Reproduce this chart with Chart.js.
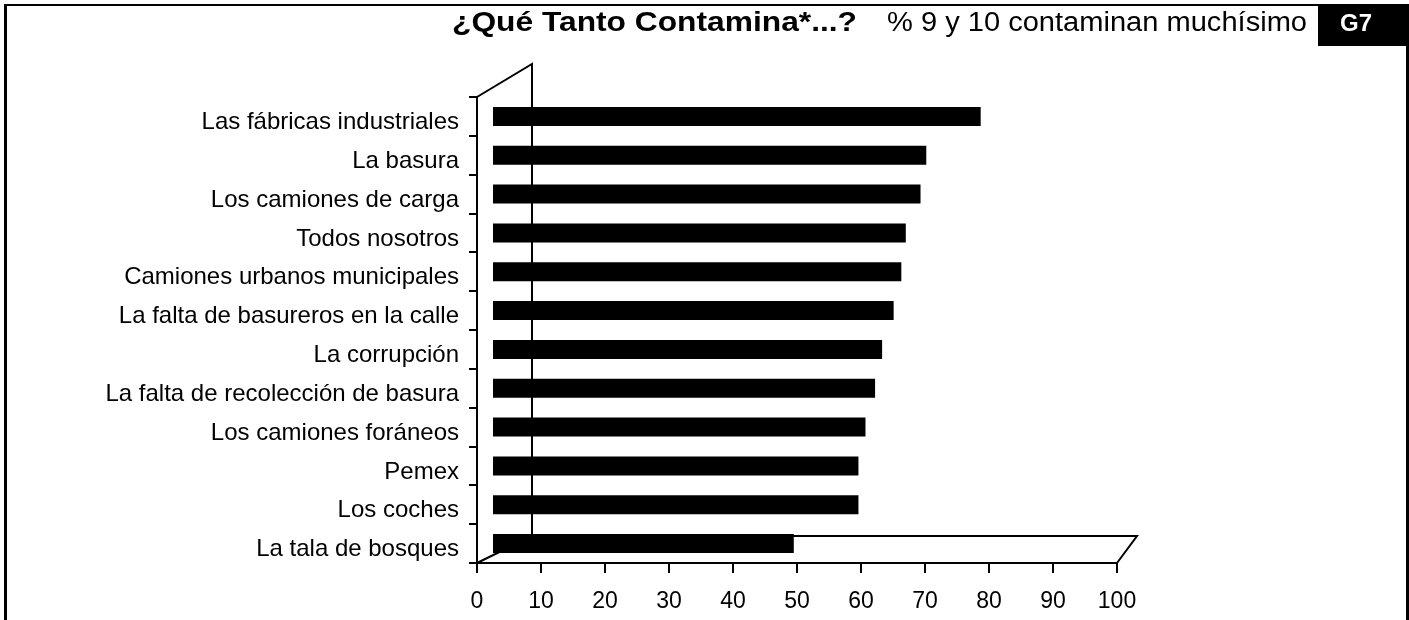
<!DOCTYPE html>
<html><head><meta charset="utf-8">
<script src="https://cdn.jsdelivr.net/npm/chart.js@4"></script>
<style>html,body{margin:0;padding:0;background:#fff;overflow:hidden}#wrap{position:relative;width:1409px;height:620px}</style>
</head><body><div id="wrap"><canvas id="c" width="1409" height="620"></canvas></div>
<script>
const categories = [
  'Las fábricas industriales',
  'La basura',
  'Los camiones de carga',
  'Todos nosotros',
  'Camiones urbanos municipales',
  'La falta de basureros en la calle',
  'La corrupción',
  'La falta de recolección de basura',
  'Los camiones foráneos',
  'Pemex',
  'Los coches',
  'La tala de bosques'
];
const values = [78.7, 70.2, 69.3, 67.0, 66.3, 65.1, 63.3, 62.2, 60.7, 59.6, 59.6, 49.5];
const xTickValues = [0, 10, 20, 30, 40, 50, 60, 70, 80, 90, 100];
const titleBold = '¿Qué Tanto Contamina*...?';
const titleRest = '% 9 y 10 contaminan muchísimo';
const badgeText = 'G7';

const FONT = '"Liberation Sans", Arial, Helvetica, sans-serif';

function fitText(ctx, text, x0, x1, y, font, color) {
  ctx.save();
  ctx.font = font;
  ctx.fillStyle = color;
  ctx.textBaseline = 'middle';
  ctx.textAlign = 'left';
  const w = ctx.measureText(text).width;
  const sx = (x1 - x0) / w;
  ctx.translate(x0, y);
  ctx.scale(sx, 1);
  ctx.fillText(text, 0, 0);
  ctx.restore();
}

const decor = {
  id: 'decor',
  beforeDatasetsDraw(chart) {
    const {ctx, chartArea: a, scales} = chart;
    const x0 = scales.x.getPixelForValue(0);
    // offset bar bases for the pseudo-3D look
    chart.getDatasetMeta(0).data.forEach(el => { el.base = x0 + 16; });
    ctx.save();
    ctx.strokeStyle = '#000';
    ctx.lineWidth = 2;
    ctx.lineCap = 'butt';
    ctx.beginPath();
    // back wall
    ctx.moveTo(a.left, a.top);
    ctx.lineTo(a.left + 55, a.top - 33);
    ctx.lineTo(a.left + 55, a.bottom - 27);
    // floor
    ctx.moveTo(a.left, a.bottom);
    ctx.lineTo(a.left + 55, a.bottom - 27);
    ctx.lineTo(a.right + 20, a.bottom - 27);
    ctx.lineTo(a.right, a.bottom);
    ctx.stroke();
    ctx.restore();
  },
  afterDraw(chart) {
    const ctx = chart.ctx;
    ctx.save();
    // frame
    ctx.fillStyle = '#000';
    ctx.fillRect(4, 4, 3, 616);
    ctx.fillRect(4, 4, 1405, 2);
    ctx.fillRect(1406, 4, 3, 616);
    // badge
    ctx.fillRect(1318, 4, 91, 42);
    ctx.restore();
    fitText(ctx, titleBold, 452, 857, 24, 'bold 27px ' + FONT, '#000');
    fitText(ctx, titleRest, 887, 1307, 24, '27px ' + FONT, '#000');
    ctx.save();
    ctx.font = 'bold 24px ' + FONT;
    ctx.fillStyle = '#fff';
    ctx.textAlign = 'center';
    ctx.textBaseline = 'middle';
    ctx.fillText(badgeText, 1356, 24);
    ctx.restore();
  }
};

new Chart(document.getElementById('c'), {
  type: 'bar',
  data: {
    labels: categories,
    datasets: [{
      data: values,
      backgroundColor: '#000',
      borderWidth: 0,
      categoryPercentage: 1,
      barPercentage: 0.49
    }]
  },
  options: {
    indexAxis: 'y',
    responsive: false,
    animation: false,
    devicePixelRatio: 1,
    layout: { padding: { top: 97, right: 292, left: 0, bottom: 0 } },
    plugins: { legend: { display: false }, tooltip: { enabled: false }, title: { display: false } },
    scales: {
      x: {
        min: 0, max: 100,
        afterBuildTicks: s => { s.ticks = xTickValues.map(v => ({ value: v })); },
        afterFit: s => { s.height = 57; },
        ticks: { color: '#000', font: { family: FONT, size: 23 }, padding: 15, maxRotation: 0, autoSkip: false },
        grid: { drawOnChartArea: false, drawTicks: true, tickLength: 10, color: '#000', lineWidth: 2 },
        border: { color: '#000', width: 2 }
      },
      y: {
        afterFit: s => { s.width = 477; },
        ticks: { color: '#000', font: { family: FONT, size: 24 }, padding: 10, labelOffset: 6, autoSkip: false },
        grid: { offset: true, drawOnChartArea: false, drawTicks: true, tickLength: 8, color: '#000', lineWidth: 2 },
        border: { color: '#000', width: 2 }
      }
    }
  },
  plugins: [decor]
});
</script>
</body></html>
